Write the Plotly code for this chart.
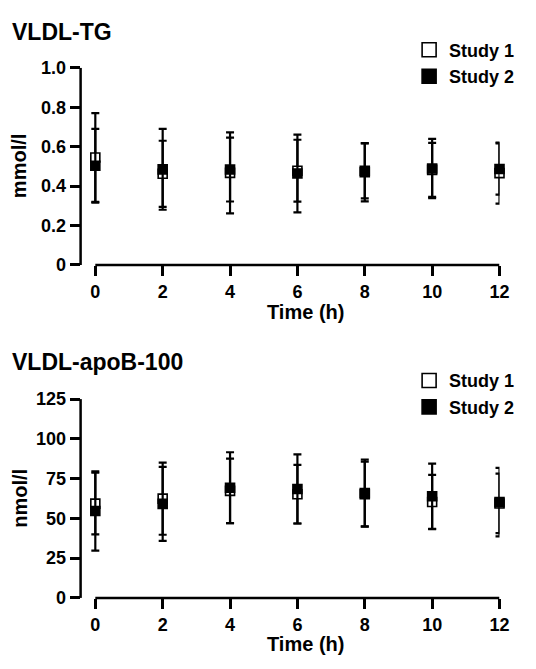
import plotly.graph_objects as go

# ---------------- data ----------------
time_h = [0, 2, 4, 6, 8, 10, 12]

tg_study1_mean = [0.545, 0.4625, 0.467, 0.478, 0.478, 0.482, 0.466]
tg_study1_sd = [0.225, 0.1675, 0.205, 0.157, 0.14, 0.137, 0.155]
tg_study2_mean = [0.503, 0.485, 0.484, 0.464, 0.470, 0.489, 0.487]
tg_study2_sd = [0.187, 0.205, 0.162, 0.197, 0.147, 0.15, 0.13]

apob_study1_mean = [59.3, 62.4, 67.3, 65.2, 66.0, 60.3, 59.4]
apob_study1_sd = [19.4, 22.7, 20.3, 18.4, 21.0, 17.0, 18.7]
apob_study2_mean = [54.6, 59.1, 69.3, 68.5, 65.2, 63.9, 60.2]
apob_study2_sd = [24.9, 23.3, 22.3, 21.7, 20.4, 20.5, 21.5]

x_ticks = [0, 2, 4, 6, 8, 10, 12]
tg_ticks = [0, 0.2, 0.4, 0.6, 0.8, 1.0]
tg_ticklabels = ["0", "0.2", "0.4", "0.6", "0.8", "1.0"]
apob_ticks = [0, 25, 50, 75, 100, 125]
apob_ticklabels = ["0", "25", "50", "75", "100", "125"]

panel_titles = ["VLDL-TG", "VLDL-apoB-100"]
y_titles = ["mmol/l", "nmol/l"]
x_title = "Time (h)"
series_names = ["Study 1", "Study 2"]

# ---------------- layout helpers ----------------
PAGE_OFF = 8          # default body margin of the html page
W, H = 536 - PAGE_OFF, 669 - PAGE_OFF
FONT = "Liberation Sans, Arial, Helvetica, sans-serif"
BLACK = "#000000"


def px_x(p):
    return (p - PAGE_OFF) / W


def px_y(p):
    return 1 - (p - PAGE_OFF) / H


x_dom = [px_x(82), px_x(509)]
panels = [
    dict(ydom=[px_y(262.7), px_y(59.3)], yr=[0, 1.0], tv=tg_ticks, tt=tg_ticklabels,
         s1=(tg_study1_mean, tg_study1_sd), s2=(tg_study2_mean, tg_study2_sd),
         title_y=22, ytitle_y=161, xtitle_y=311, legend_y=22),
    dict(ydom=[px_y(606), px_y(401)], yr=[0, 125], tv=apob_ticks, tt=apob_ticklabels,
         s1=(apob_study1_mean, apob_study1_sd), s2=(apob_study2_mean, apob_study2_sd),
         title_y=363, ytitle_y=503, xtitle_y=654, legend_y=363),
]

fig = go.Figure()
annotations = []
shapes = []

for i, p in enumerate(panels):
    n = "" if i == 0 else str(i + 1)
    xa, ya = "x" + n, "y" + n
    legend_name = "legend" + n
    for (mean, sd), name, fill in [(p["s1"], series_names[0], "white"),
                                   (p["s2"], series_names[1], BLACK)]:
        fig.add_trace(go.Scatter(
            x=time_h, y=mean, mode="markers", name=name,
            xaxis=xa, yaxis=ya, showlegend=False, cliponaxis=False,
            marker=dict(symbol="square", size=9, color=fill,
                        line=dict(color=BLACK, width=1.6)),
            error_y=dict(type="data", array=sd, visible=True,
                         color=BLACK, thickness=2.2, width=4),
        ))
        # legend entry
        fig.add_trace(go.Scatter(
            x=[None], y=[None], mode="markers", name=name,
            xaxis=xa, yaxis=ya, showlegend=True, legend=legend_name,
            marker=dict(symbol="square", size=14, color=fill,
                        line=dict(color=BLACK, width=1.6)),
        ))

    axis_common = dict(showgrid=False, zeroline=False, showline=False,
                       ticks="outside", ticklen=10, tickwidth=2.5, tickcolor=BLACK,
                       tickfont=dict(family=FONT, size=18, color=BLACK, weight="bold"))
    fig.update_layout({
        "xaxis" + n: dict(domain=x_dom, anchor=ya, range=[-0.437, 12],
                          tickvals=x_ticks, **axis_common),
        "yaxis" + n: dict(domain=p["ydom"], anchor=xa, range=p["yr"],
                          tickvals=p["tv"], ticktext=p["tt"], **axis_common),
        legend_name: dict(x=px_x(530), xanchor="right", y=px_y(p["legend_y"]), yanchor="top",
                          bgcolor="rgba(0,0,0,0)", borderwidth=0,
                          font=dict(family=FONT, size=18, color=BLACK, weight="bold"),
                          tracegroupgap=0, itemwidth=30),
    })

    # offset axis lines (GraphPad style)
    shapes.append(dict(type="line", xref=xa + " domain", yref=ya,
                       x0=0, x1=0, y0=p["yr"][0], y1=p["yr"][1],
                       line=dict(color=BLACK, width=2.5)))
    shapes.append(dict(type="line", xref=xa, yref=ya + " domain",
                       x0=x_ticks[0], x1=x_ticks[-1], y0=0, y1=0,
                       line=dict(color=BLACK, width=2.5)))

    annotations.append(dict(text=panel_titles[i], xref="paper", yref="paper",
                            x=px_x(10), y=px_y(p["title_y"]), xanchor="left", yanchor="middle",
                            showarrow=False,
                            font=dict(family=FONT, size=23, color=BLACK, weight="bold")))
    annotations.append(dict(text=y_titles[i], xref="paper", yref="paper", textangle=-90,
                            x=px_x(20), y=px_y(p["ytitle_y"]), xanchor="center", yanchor="middle",
                            showarrow=False,
                            font=dict(family=FONT, size=20, color=BLACK, weight="bold")))
    annotations.append(dict(text=x_title, xref="paper", yref="paper",
                            x=px_x(311), y=px_y(p["xtitle_y"]), xanchor="center", yanchor="middle",
                            showarrow=False,
                            font=dict(family=FONT, size=20, color=BLACK, weight="bold")))

fig.update_layout(
    width=W, height=H,
    margin=dict(l=0, r=0, t=0, b=0),
    paper_bgcolor="white", plot_bgcolor="white",
    annotations=annotations, shapes=shapes,
)

fig.write_html("out.html")
